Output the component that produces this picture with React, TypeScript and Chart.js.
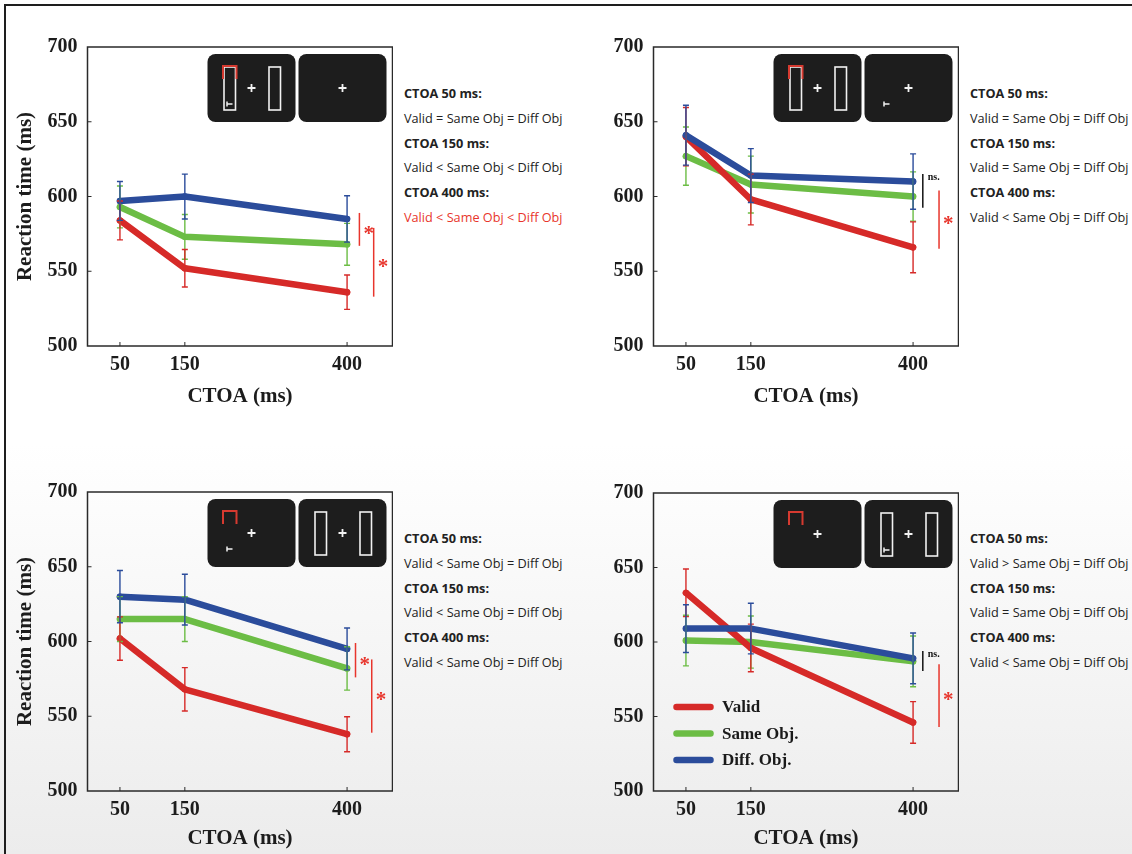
import React, { useEffect, useRef } from 'react';
import { Chart, registerables } from 'chart.js';

Chart.register(...registerables);

// ---------- data ----------
const CTOA = [50, 150, 400];
const X_TICKS = [50, 150, 400];
const Y_TICKS = [500, 550, 600, 650, 700];
const SERIES_LABELS = ['Valid', 'Same Obj.', 'Diff. Obj.'];

// top-left panel
const A_VALID = [584, 552, 536];
const A_SAME = [593, 573, 568];
const A_DIFF = [597, 600, 585];
const A_VALID_ERR = [13, 12.5, 11.5];
const A_SAME_ERR = [14, 15, 14];
const A_DIFF_ERR = [13, 15, 15.5];

// top-right panel
const B_VALID = [640, 598, 566];
const B_SAME = [627, 608, 600];
const B_DIFF = [641, 614, 610];
const B_VALID_ERR = [19.5, 17, 17];
const B_SAME_ERR = [19.5, 19, 16.5];
const B_DIFF_ERR = [20, 18, 18.5];

// bottom-left panel
const C_VALID = [602, 568, 538];
const C_SAME = [615, 615, 582];
const C_DIFF = [630, 628, 595];
const C_VALID_ERR = [14.5, 14.5, 11.7];
const C_SAME_ERR = [15, 15, 14.5];
const C_DIFF_ERR = [17.5, 17, 14];

// bottom-right panel
const D_VALID = [633, 596, 546];
const D_SAME = [601, 600, 587];
const D_DIFF = [609, 609, 589];
const D_VALID_ERR = [16, 16, 14];
const D_SAME_ERR = [17, 17.5, 17];
const D_DIFF_ERR = [16, 17, 17];

// notes
const A_NOTES = ['CTOA 50 ms:', 'Valid = Same Obj = Diff Obj', 'CTOA 150 ms:', 'Valid < Same Obj < Diff Obj', 'CTOA 400 ms:', 'Valid < Same Obj < Diff Obj'];
const B_NOTES = ['CTOA 50 ms:', 'Valid = Same Obj = Diff Obj', 'CTOA 150 ms:', 'Valid = Same Obj = Diff Obj', 'CTOA 400 ms:', 'Valid < Same Obj = Diff Obj'];
const C_NOTES = ['CTOA 50 ms:', 'Valid < Same Obj = Diff Obj', 'CTOA 150 ms:', 'Valid < Same Obj = Diff Obj', 'CTOA 400 ms:', 'Valid < Same Obj = Diff Obj'];
const D_NOTES = ['CTOA 50 ms:', 'Valid > Same Obj = Diff Obj', 'CTOA 150 ms:', 'Valid = Same Obj = Diff Obj', 'CTOA 400 ms:', 'Valid < Same Obj = Diff Obj'];

// significance marks: x in CTOA units, y range in ms
const A_SIG = [
  { x: 419, y1: 589, y2: 567, label: '*', kind: 'sig' },
  { x: 441, y1: 579, y2: 533, label: '*', kind: 'sig' },
];
const B_SIG = [
  { x: 415, y1: 615, y2: 592.5, label: 'ns.', kind: 'ns' },
  { x: 440, y1: 604, y2: 565, label: '*', kind: 'sig' },
];
const C_SIG = [
  { x: 413, y1: 599, y2: 576, label: '*', kind: 'sig' },
  { x: 438, y1: 588, y2: 539, label: '*', kind: 'sig' },
];
const D_SIG = [
  { x: 415, y1: 594, y2: 580.5, label: 'ns.', kind: 'ns' },
  { x: 440, y1: 585, y2: 543, label: '*', kind: 'sig' },
];

// stimulus screens shown in each panel
const A_SCREENS = [['rects', 'cue', 'target'], []];
const B_SCREENS = [['rects', 'cue'], ['target']];
const C_SCREENS = [['cue', 'target'], ['rects']];
const D_SCREENS = [['cue'], ['rects', 'target']];

// ---------- style ----------
const RED = '#d62a28';
const GREEN = '#6cbd45';
const BLUE = '#2b4c9b';
const INK = '#1c1c1c';
const SERIF = "'Liberation Serif', 'Times New Roman', serif";
const SANS = "'Open Sans', 'Noto Sans', sans-serif";

type Sig = { x: number; y1: number; y2: number; label: string; kind: string };

function drawScreen(ctx: CanvasRenderingContext2D, x: number, y: number, items: string[]) {
  const w = 88, h = 68, r = 8;
  ctx.save();
  ctx.fillStyle = '#1d1d1d';
  ctx.beginPath();
  ctx.moveTo(x + r, y);
  ctx.arcTo(x + w, y, x + w, y + h, r);
  ctx.arcTo(x + w, y + h, x, y + h, r);
  ctx.arcTo(x, y + h, x, y, r);
  ctx.arcTo(x, y, x + w, y, r);
  ctx.closePath();
  ctx.fill();
  ctx.strokeStyle = '#f2f2f2';
  ctx.lineWidth = 1.6;
  if (items.includes('rects')) {
    ctx.strokeRect(x + 16.5, y + 13, 11.5, 43);
    ctx.strokeRect(x + 61.5, y + 13, 11.5, 43);
  }
  // fixation cross
  ctx.lineWidth = 1.8;
  ctx.beginPath();
  ctx.moveTo(x + 40, y + 34); ctx.lineTo(x + 48, y + 34);
  ctx.moveTo(x + 44, y + 30); ctx.lineTo(x + 44, y + 38);
  ctx.stroke();
  if (items.includes('target')) {
    ctx.lineWidth = 1.5;
    ctx.beginPath();
    ctx.moveTo(x + 19.5, y + 47.5); ctx.lineTo(x + 19.5, y + 52.5);
    ctx.moveTo(x + 19.5, y + 50); ctx.lineTo(x + 25, y + 50);
    ctx.stroke();
  }
  if (items.includes('cue')) {
    ctx.strokeStyle = '#d63a30';
    ctx.lineWidth = 2;
    ctx.beginPath();
    ctx.moveTo(x + 15.5, y + 25);
    ctx.lineTo(x + 15.5, y + 12);
    ctx.lineTo(x + 29, y + 12);
    ctx.lineTo(x + 29, y + 25);
    ctx.stroke();
  }
  ctx.restore();
}

function makeDecor(sigs: Sig[], screens: string[][], showLegend: boolean) {
  return {
    id: 'decor',
    afterDatasetsDraw(chart: any) {
      const { ctx, chartArea: a, scales } = chart;
      const xs = scales.x, ys = scales.y;
      ctx.save();
      // error bars
      const metas = chart.getSortedVisibleDatasetMetas();
      for (let m = metas.length - 1; m >= 0; m--) {
        const meta = metas[m];
        const ds = chart.data.datasets[meta.index];
        ctx.strokeStyle = ds.borderColor;
        ctx.lineWidth = 1.4;
        meta.data.forEach((pt: any, i: number) => {
          const v = ds.data[i].y;
          const t = ys.getPixelForValue(v + ds.err[i]);
          const b = ys.getPixelForValue(v - ds.err[i]);
          ctx.beginPath();
          ctx.moveTo(pt.x, t); ctx.lineTo(pt.x, b);
          ctx.moveTo(pt.x - 3, t); ctx.lineTo(pt.x + 3, t);
          ctx.moveTo(pt.x - 3, b); ctx.lineTo(pt.x + 3, b);
          ctx.stroke();
        });
      }
      // frame
      ctx.strokeStyle = '#2a2a2a';
      ctx.lineWidth = 1.5;
      ctx.strokeRect(a.left, a.top, a.right - a.left, a.bottom - a.top);
      // inward ticks
      ctx.lineWidth = 1;
      ctx.beginPath();
      X_TICKS.forEach((v) => {
        const px = xs.getPixelForValue(v);
        ctx.moveTo(px, a.bottom); ctx.lineTo(px, a.bottom - 4);
      });
      Y_TICKS.slice(1, -1).forEach((v) => {
        const py = ys.getPixelForValue(v);
        ctx.moveTo(a.left, py); ctx.lineTo(a.left + 4, py);
      });
      ctx.stroke();
      // significance
      sigs.forEach((s) => {
        const px = xs.getPixelForValue(s.x);
        const t = ys.getPixelForValue(s.y1);
        const b = ys.getPixelForValue(s.y2);
        const col = s.kind === 'ns' ? '#111' : '#e8352c';
        ctx.strokeStyle = col;
        ctx.lineWidth = 1.5;
        ctx.beginPath();
        ctx.moveTo(px, t); ctx.lineTo(px, b);
        ctx.stroke();
        ctx.fillStyle = col;
        if (s.kind === 'ns') {
          ctx.font = `bold 10px ${SERIF}`;
          ctx.textAlign = 'left';
          ctx.textBaseline = 'middle';
          ctx.fillText(s.label, px + 5, t + 3);
        } else {
          ctx.font = `bold 21px ${SERIF}`;
          ctx.textAlign = 'left';
          ctx.textBaseline = 'middle';
          ctx.fillText(s.label, px + 4, (t + b) / 2 + 5);
        }
      });
      // stimulus screens
      screens.forEach((items, i) => drawScreen(ctx, a.left + 120 + i * 91, a.top + 7, items));
      // legend
      if (showLegend) {
        const order = [0, 1, 2];
        order.forEach((di, k) => {
          const ds = chart.data.datasets[di];
          const yy = a.bottom - 84 + k * 26.5;
          ctx.strokeStyle = ds.borderColor;
          ctx.lineWidth = 6.5;
          ctx.lineCap = 'round';
          ctx.beginPath();
          ctx.moveTo(a.left + 23, yy); ctx.lineTo(a.left + 57, yy);
          ctx.stroke();
          ctx.fillStyle = '#1a1a1a';
          ctx.font = `bold 17px ${SERIF}`;
          ctx.textAlign = 'left';
          ctx.textBaseline = 'middle';
          ctx.fillText(ds.label, a.left + 68.5, yy + 1);
        });
      }
      ctx.restore();
    },
  };
}

type PanelProps = {
  left: number; top: number; width: number; height: number;
  yAxisWidth: number; xAxisHeight: number; padTop: number; xTitlePad: number;
  valid: number[]; same: number[]; diff: number[];
  validErr: number[]; sameErr: number[]; diffErr: number[];
  showYTitle: boolean; showLegend: boolean; sigs: Sig[]; screens: string[][];
};

function Panel(p: PanelProps) {
  const ref = useRef<HTMLCanvasElement>(null);
  useEffect(() => {
    const mk = (label: string, vals: number[], err: number[], color: string, order: number) => ({
      label,
      data: CTOA.map((x, i) => ({ x, y: vals[i] })),
      err,
      borderColor: color,
      backgroundColor: color,
      borderWidth: 6.5,
      borderCapStyle: 'round',
      borderJoinStyle: 'round',
      pointRadius: 3.2,
      pointBorderWidth: 0,
      pointBackgroundColor: color,
      tension: 0,
      order,
    });
    const tickFont = { family: SERIF, size: 20, weight: 'bold' as const };
    const titleFont = { family: SERIF, size: 21, weight: 'bold' as const };
    const chart = new Chart(ref.current!, {
      type: 'line',
      data: {
        datasets: [
          mk(SERIES_LABELS[0], p.valid, p.validErr, RED, 2),
          mk(SERIES_LABELS[1], p.same, p.sameErr, GREEN, 3),
          mk(SERIES_LABELS[2], p.diff, p.diffErr, BLUE, 1),
        ] as any,
      },
      options: {
        animation: false,
        responsive: false,
        devicePixelRatio: 1,
        layout: { autoPadding: false, padding: { top: p.padTop, right: 0.5, left: 0, bottom: 0 } },
        plugins: { legend: { display: false }, tooltip: { enabled: false } },
        scales: {
          x: {
            type: 'linear',
            min: 0,
            max: 470,
            afterBuildTicks: (s: any) => { s.ticks = X_TICKS.map((v) => ({ value: v })); },
            afterFit: (s: any) => {
              s.height = p.xAxisHeight;
              s.paddingLeft = 0; s.paddingRight = 0; s.paddingTop = 0; s.paddingBottom = 0;
            },
            grid: { display: false, drawTicks: false },
            border: { display: false },
            ticks: { font: tickFont, color: INK, padding: 7, autoSkip: false, maxRotation: 0 },
            title: { display: true, text: 'CTOA (ms)', font: titleFont, color: INK, padding: { top: 0, bottom: p.xTitlePad } },
          },
          y: {
            type: 'linear',
            min: 500,
            max: 700,
            afterBuildTicks: (s: any) => { s.ticks = Y_TICKS.map((v) => ({ value: v })); },
            afterFit: (s: any) => {
              s.width = p.yAxisWidth;
              s.paddingLeft = 0; s.paddingRight = 0; s.paddingTop = 0; s.paddingBottom = 0;
            },
            grid: { display: false, drawTicks: false },
            border: { display: false },
            ticks: { font: tickFont, color: INK, padding: 10 },
            title: { display: p.showYTitle, text: 'Reaction time (ms)', font: titleFont, color: INK, padding: { top: 5, bottom: 0 } },
          },
        },
      } as any,
      plugins: [makeDecor(p.sigs, p.screens, p.showLegend)],
    });
    return () => chart.destroy();
  }, []);
  return (
    <canvas
      ref={ref}
      width={p.width}
      height={p.height}
      style={{ position: 'absolute', left: p.left, top: p.top, width: p.width, height: p.height, display: 'block' }}
    />
  );
}

function Notes({ left, top, lines, redIndex }: { left: number; top: number; lines: string[]; redIndex: number }) {
  return (
    <div style={{ position: 'absolute', left, top, fontFamily: SANS, fontSize: 12.7 }}>
      {lines.map((t, i) => (
        <div
          key={i}
          style={{
            position: 'absolute',
            left: 0,
            top: i * 24.8 - 9,
            lineHeight: '18px',
            whiteSpace: 'nowrap',
            fontWeight: i % 2 === 0 ? 700 : 400,
            color: i === redIndex ? '#e8352c' : '#222222',
          }}
        >
          {t}
        </div>
      ))}
    </div>
  );
}

export default function App() {
  return (
    <div
      style={{
        position: 'absolute', left: 0, top: 0, width: 1132, height: 854, overflow: 'hidden',
        background: 'linear-gradient(to bottom, #ffffff 0%, #ffffff 52%, #ececec 100%)',
      }}
    >
      <div style={{ position: 'absolute', left: 4, top: 4, width: 1140, height: 860, borderTop: '2px solid #1e1e1e', borderLeft: '2px solid #1e1e1e' }} />
      <Panel left={8} top={33} width={385} height={379} yAxisWidth={79.5} xAxisHeight={66} padTop={14} xTitlePad={2.4}
        valid={A_VALID} same={A_SAME} diff={A_DIFF} validErr={A_VALID_ERR} sameErr={A_SAME_ERR} diffErr={A_DIFF_ERR}
        showYTitle={true} showLegend={false} sigs={A_SIG} screens={A_SCREENS} />
      <Panel left={574} top={33} width={385} height={379} yAxisWidth={79.5} xAxisHeight={66} padTop={14} xTitlePad={2.4}
        valid={B_VALID} same={B_SAME} diff={B_DIFF} validErr={B_VALID_ERR} sameErr={B_SAME_ERR} diffErr={B_DIFF_ERR}
        showYTitle={false} showLegend={false} sigs={B_SIG} screens={B_SCREENS} />
      <Panel left={8} top={478} width={385} height={373} yAxisWidth={79.5} xAxisHeight={60} padTop={14} xTitlePad={0}
        valid={C_VALID} same={C_SAME} diff={C_DIFF} validErr={C_VALID_ERR} sameErr={C_SAME_ERR} diffErr={C_DIFF_ERR}
        showYTitle={true} showLegend={false} sigs={C_SIG} screens={C_SCREENS} />
      <Panel left={574} top={479} width={385} height={372} yAxisWidth={79.5} xAxisHeight={60} padTop={14} xTitlePad={0}
        valid={D_VALID} same={D_SAME} diff={D_DIFF} validErr={D_VALID_ERR} sameErr={D_SAME_ERR} diffErr={D_DIFF_ERR}
        showYTitle={false} showLegend={true} sigs={D_SIG} screens={D_SCREENS} />
      <Notes left={404} top={93} lines={A_NOTES} redIndex={5} />
      <Notes left={970} top={93} lines={B_NOTES} redIndex={-1} />
      <Notes left={404} top={538} lines={C_NOTES} redIndex={-1} />
      <Notes left={970} top={538} lines={D_NOTES} redIndex={-1} />
    </div>
  );
}
